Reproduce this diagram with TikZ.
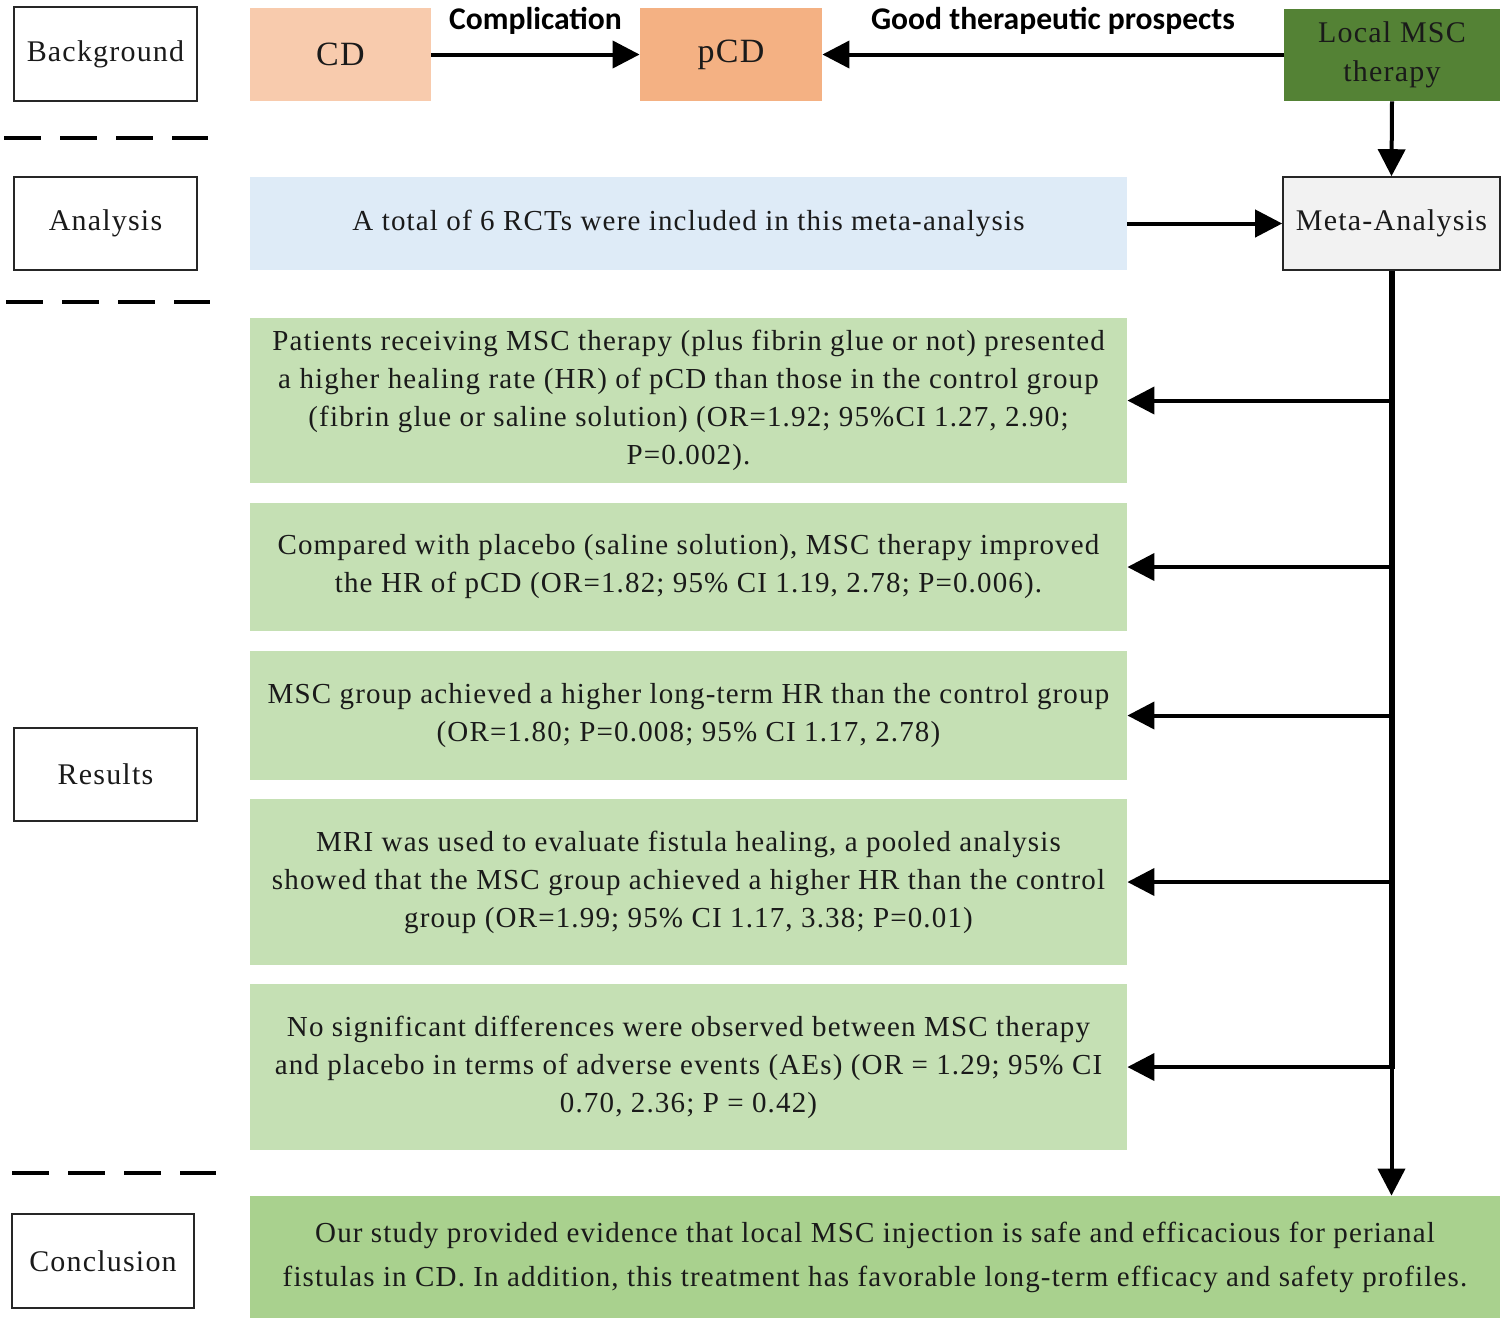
\documentclass[tikz,border=0pt]{standalone}
\usepackage{fontspec}
\setmainfont{Liberation Serif}[LetterSpace=4]
\newfontfamily\lblfont{Carlito}
\usetikzlibrary{arrows.meta}
\definecolor{cdcol}{HTML}{F8CBAD}
\definecolor{pcdcol}{HTML}{F4B183}
\definecolor{msccol}{HTML}{548235}
\definecolor{bluecol}{HTML}{DEEBF7}
\definecolor{metacol}{HTML}{F2F2F2}
\definecolor{rescol}{HTML}{C5E0B4}
\definecolor{concol}{HTML}{A9D18E}
\definecolor{txtdark}{HTML}{1A1A1A}
\tikzset{
  x=0.5pt, y=-0.5pt,
  base/.style={inner sep=0pt, align=center, font=\fontsize{14.5}{19}\selectfont, text=txtdark},
  sidebox/.style={base, draw=black!85, line width=0.8pt, font=\fontsize{15}{19}\selectfont},
  fillbox/.style={base, draw=none},
  conn/.style={line width=2pt, -{Triangle[length=13.5pt, width=13.5pt]}},
  trunk/.style={line width=3pt},
  sep/.style={line width=2pt, dash pattern=on 18.5pt off 9.5pt},
  toplbl/.style={inner sep=0pt, font=\lblfont\bfseries\fontsize{15.8}{18}\selectfont}
}
\begin{document}
\begin{tikzpicture}
\useasboundingbox (0,0) rectangle (1511,1319);
% side labels
\node[sidebox, minimum width=91.5pt, minimum height=47pt] (bg) at (105.5,54) {Background};
\node[sidebox, minimum width=91.5pt, minimum height=46.5pt] (an) at (105.5,223.5) {Analysis};
\node[sidebox, minimum width=91.5pt, minimum height=46.5pt] (res) at (105.5,774.5) {Results};
\node[sidebox, minimum width=91pt, minimum height=47pt] (con) at (103,1261) {Conclusion};
% separators
\draw[sep] (4,138) -- (208,138);
\draw[sep] (6,302) -- (210,302);
\draw[sep] (12,1173) -- (216,1173);
% top row
\node[fillbox, fill=cdcol, minimum width=90.5pt, minimum height=46.5pt, font=\fontsize{17}{19}\selectfont] (cd) at (340.5,54.5) {CD};
\node[fillbox, fill=pcdcol, minimum width=91pt, minimum height=46.5pt, font=\fontsize{17}{19}\selectfont] (pcd) at (731,54.5) {pCD};
\node[fillbox, fill=msccol, minimum width=108pt, minimum height=46pt, font=\fontsize{15}{19.5}\selectfont] (msc) at (1392,55) {Local MSC\\therapy};
% analysis row
\node[fillbox, fill=bluecol, minimum width=438.5pt, minimum height=46.5pt] (tot) at (688.5,223.5) {A total of 6 RCTs were included in this meta-analysis};
\node[sidebox, fill=metacol, minimum width=108.5pt, minimum height=46.5pt] (meta) at (1391.5,223.5) {Meta-Analysis};
% results
\node[fillbox, fill=rescol, minimum width=438.5pt, minimum height=82.5pt] (r1) at (688.5,400.5) {Patients receiving MSC therapy (plus fibrin glue or not) presented\\a higher healing rate (HR) of pCD than those in the control group\\(fibrin glue or saline solution) (OR=1.92; 95\%CI 1.27, 2.90;\\P=0.002).};
\node[fillbox, fill=rescol, minimum width=438.5pt, minimum height=64pt] (r2) at (688.5,567) {Compared with placebo (saline solution), MSC therapy improved\\the HR of pCD (OR=1.82; 95\% CI 1.19, 2.78; P=0.006).};
\node[fillbox, fill=rescol, minimum width=438.5pt, minimum height=64.5pt] (r3) at (688.5,715.5) {MSC group achieved a higher long-term HR than the control group\\(OR=1.80; P=0.008; 95\% CI 1.17, 2.78)};
\node[fillbox, fill=rescol, minimum width=438.5pt, minimum height=83pt] (r4) at (688.5,882) {MRI was used to evaluate fistula healing, a pooled analysis\\showed that the MSC group achieved a higher HR than the control\\group (OR=1.99; 95\% CI 1.17, 3.38; P=0.01)};
\node[fillbox, fill=rescol, minimum width=438.5pt, minimum height=83pt] (r5) at (688.5,1067) {No significant differences were observed between MSC therapy\\and placebo in terms of adverse events (AEs) (OR = 1.29; 95\% CI\\0.70, 2.36; P = 0.42)};
% conclusion
\node[fillbox, fill=concol, minimum width=625pt, minimum height=61pt, font=\fontsize{14.5}{22}\selectfont] (concl) at (875,1257) {Our study provided evidence that local MSC injection is safe and efficacious for perianal\\fistulas in CD. In addition, this treatment has favorable long-term efficacy and safety profiles.};
% connectors
\draw[conn] (cd.east) -- (pcd.west) node[toplbl, midway, yshift=16.8pt] (lc) {Complication};
\draw[conn] (msc.west |- pcd.east) -- (pcd.east) node[toplbl, midway, yshift=16.8pt] (lg) {Good therapeutic prospects};
\draw[conn] (msc.south) -- (meta.north);
\draw[conn] (tot.east) -- (meta.west);
\draw[trunk] (meta.south) -- ([yshift=-1pt]meta.south |- r5.east);
\draw[conn] ([yshift=1pt]meta.south |- r5.east) -- (meta.south |- concl.north);
\foreach \r in {r1,r2,r3,r4,r5}{
  \draw[conn] (meta.south |- \r.east) -- (\r.east);
}
\end{tikzpicture}
\end{document}
